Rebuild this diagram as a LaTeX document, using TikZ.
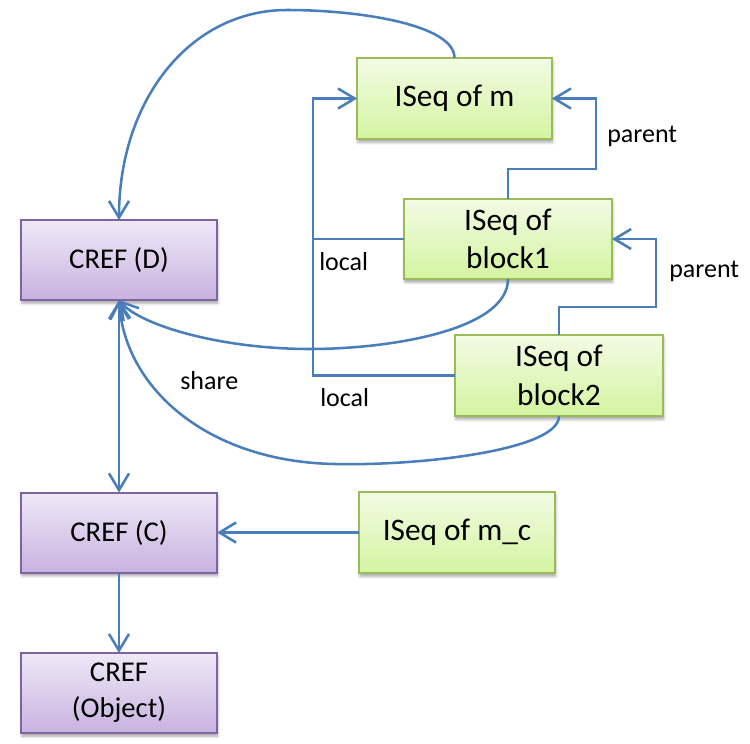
\documentclass[tikz,border=0pt]{standalone}
\usepackage{fontspec}
\setmainfont{Carlito}
\usetikzlibrary{arrows.meta,shadows.blur}

\definecolor{linkblue}{HTML}{4A7EBB}
\definecolor{greenedge}{HTML}{9BBB59}
\definecolor{greentop}{HTML}{F2FBE4}
\definecolor{greenbot}{HTML}{D4F4A0}
\definecolor{purpedge}{HTML}{8064A2}
\definecolor{purptop}{HTML}{EEE8F6}
\definecolor{purpbot}{HTML}{C8B2E0}

\tikzset{
  box/.style={rectangle, inner sep=0pt, outer sep=0pt, line width=1.5pt, align=center,
    blur shadow={shadow xshift=0.6pt, shadow yshift=-2.4pt, shadow blur radius=2pt, shadow opacity=35}},
  greenbox/.style={box, draw=greenedge, top color=greentop, bottom color=greenbot,
    font=\fontsize{23.5}{29}\selectfont},
  purplebox/.style={box, draw=purpedge, top color=purptop, bottom color=purpbot,
    font=\fontsize{21.5}{27}\selectfont, minimum width=147pt, minimum height=60pt},
  link/.style={draw=linkblue, line width=1.9pt},
  arr/.style={link, -{Straight Barb[length=12.5pt,width=15pt]}},
  biarr/.style={link, {Straight Barb[length=12.5pt,width=15pt]}-{Straight Barb[length=12.5pt,width=15pt]}},
  lbl/.style={font=\fontsize{19.5}{23}\selectfont, inner sep=0pt, anchor=base west},
}

\begin{document}
\begin{tikzpicture}[x=0.75pt, y=-0.75pt]
  \path[use as bounding box] (0,0) rectangle (750,743);

  % instruction sequences
  \node[greenbox, minimum width=146pt, minimum height=61pt] (m)  at (454.5,98.5) {ISeq of m};
  \node[greenbox, minimum width=156pt, minimum height=60pt] (b1) at (508,239)   {ISeq of\\block1};
  \node[greenbox, minimum width=156pt, minimum height=61pt] (b2) at (559,375.5) {ISeq of\\block2};
  \node[greenbox, minimum width=147pt, minimum height=61pt] (mc) at (457,532.5) {ISeq of m\_c};

  % class references
  \node[purplebox] (D) at (119,260)   {CREF (D)};
  \node[purplebox] (C) at (119,532.5) {CREF (C)};
  \node[purplebox] (O) at (119,693)   {CREF\\(Object)};

  % routing points
  \coordinate (busx) at (313,0);
  \coordinate (p1) at (596,169);
  \coordinate (p2) at (656,307);
  \coordinate (top) at (287,10);
  \coordinate (c2) at (310,349);
  \coordinate (c3) at (335,464);

  % local links
  \draw[arr] (b1.west) -- (b1.west -| busx) |- (m.west);
  \draw[link] (b2.west) -| (busx |- b1.west);

  % parent links
  \draw[arr] (b1.north) |- (p1) |- (m.east);
  \draw[arr] (b2.north) |- (p2) |- (b1.east);

  % curved links to CREF (D)
  \draw[arr] (m.north) .. controls +(0,-33) and +(73,0) .. (top)
             .. controls +(-97,0) and +(0,-120) .. (D.north);
  \draw[arr] (b1.south) .. controls +(0,51) and +(80,0) .. (c2)
             .. controls +(-90,0) and +(21,25) .. (D.south);
  \draw[arr] (b2.south) .. controls +(0,34) and +(85,2) .. (c3)
             .. controls +(-125,-2) and +(6,90) .. (D.south);

  % straight links
  \draw[biarr] (D.south) -- (C.north);
  \draw[arr] (mc.west) -- (C.east);
  \draw[arr] (C.south) -- (O.north);

  % labels
  \node[lbl] at (319,270) {local};
  \node[lbl] at (320,406) {local};
  \node[lbl] at (607,142) {parent};
  \node[lbl] at (669,277) {parent};
  \node[lbl] at (180,389) {share};
\end{tikzpicture}
\end{document}
